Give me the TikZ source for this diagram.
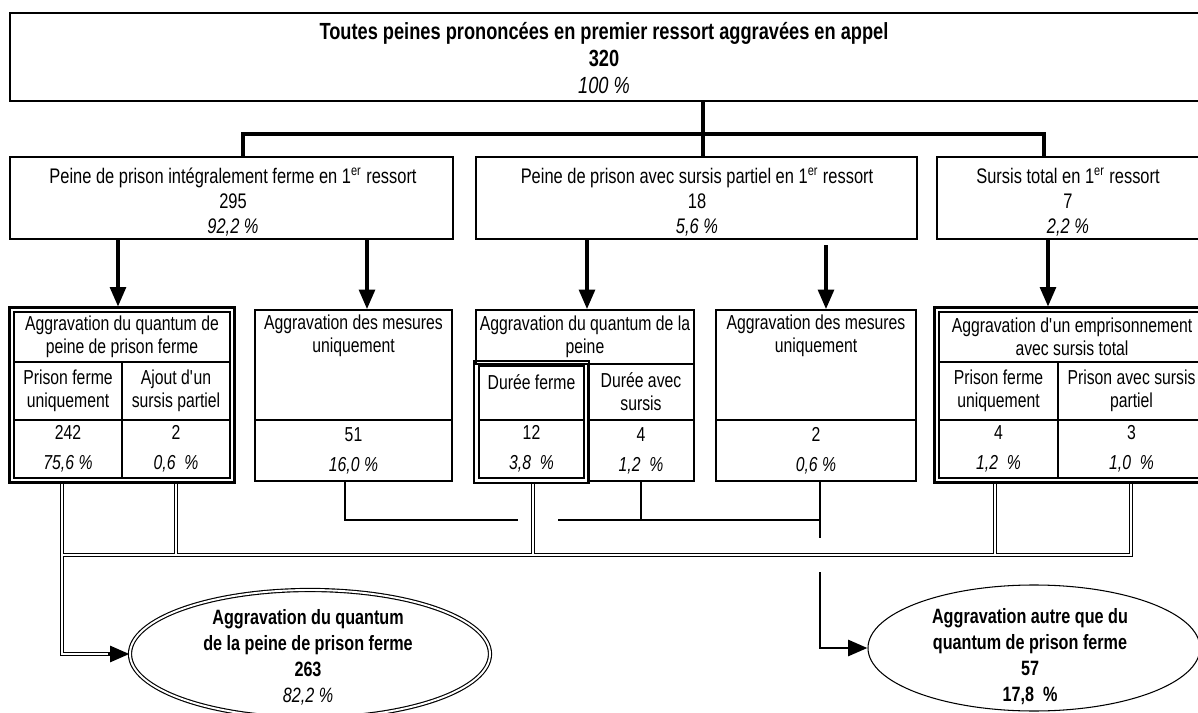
\documentclass[tikz,border=0pt]{standalone}
\usepackage{fontspec}
\setmainfont{Liberation Sans}[FakeStretch=0.78]
\usetikzlibrary{positioning}
\usetikzlibrary{arrows.meta}
\usetikzlibrary{fit}
\usetikzlibrary{shapes.geometric}
\newcommand{\px}{0.02cm}

\begin{document}
\begin{tikzpicture}[x=\px,y=-\px,
  every node/.style={font=\fontsize{11.5}{13}\selectfont, align=center},
  frame/.style={draw, line width=1.1pt},
  cell/.style 2 args={frame, minimum width=#1*\px, minimum height=#2*\px, inner sep=0pt},
  dframe/.style={frame, line width=1.2pt, inner sep=3.5*\px},
  big/.style={font=\fontsize{12}{14.3}\selectfont},
  bold/.style={font=\fontsize{11.8}{14.8}\selectfont\bfseries},
  trunk/.style={line width=1.8pt},
  arr/.style={line width=1.8pt, -{Triangle[length=11pt,width=9pt]}},
  link/.style={line width=1.7pt},
  dbl/.style={double, line width=0.65pt, double distance=1.1pt}]
 \useasboundingbox (0,0) rectangle (1198,713);
 \clip (0,0) rectangle (1198,713);

 \node[cell={1196}{88}] (top) at (608,57) {};
 \node[font=\fontsize{13.3}{15.5}\selectfont\bfseries] (topTxt) at (604,58) {Toutes peines prononcées en premier ressort aggravées en appel\\320\\{\mdseries\itshape 100 \%}};

 \node[cell={443}{82}] (m1) at (231.5,198) {};
 \node[cell={441}{82}] (m2) at (696.5,198) {};
 \node[cell={269}{82}] (m3) at (1071.5,198) {};
 \node[big] (m1Txt) at (233,202) {Peine de prison intégralement ferme en 1\textsuperscript{er} ressort\\295\\\textit{92,2 \%}};
 \node[big] (m2Txt) at (697,202) {Peine de prison avec sursis partiel en 1\textsuperscript{er} ressort\\18\\\textit{5,6 \%}};
 \node[big] (m3Txt) at (1068,202) {Sursis total en 1\textsuperscript{er} ressort\\7\\\textit{2,2 \%}};

 \coordinate (t1) at (243,134);
 \coordinate (t2) at (703,134);
 \coordinate (t3) at (1044,134);
 \draw[trunk] (t2 |- top.south) -- (t2 |- m2.north);
 \draw[trunk] (t1 |- m1.north) -- (t1) -- (t3) -- (t3 |- m3.north);

 \node[cell={216}{50}] (aHead) at (122,337) {Aggravation du quantum de\\peine de prison ferme};
 \node[cell={108}{58}] (aS1) at (68,391) {Prison ferme\\uniquement};
 \node[cell={108}{58}] (aS2) at (176,391) {Ajout d\textquotesingle un\\sursis partiel};
 \node[cell={108}{58}] (aN1) at (68,449) {242\\[4pt]\textit{75,6 \%}};
 \node[cell={108}{58}] (aN2) at (176,449) {2\\[4pt]\textit{0,6~~\%}};
 \node[dframe, fit=(aHead)(aN2)] (aFrame) {};

 \node[cell={197}{110}] (bHead) at (353.5,365) {};
 \node[below=0pt of bHead.north] (bTxt) {Aggravation des mesures\\uniquement};
 \node[cell={197}{61}] (bNum) at (353.5,450.5) {51\\[4pt]\textit{16,0 \%}};

 \node[cell={218}{54}] (cHead) at (585,337) {Aggravation du quantum de la\\peine};
 \node[cell={105}{54}] (cS1) at (531.5,393) {Durée ferme\\~};
 \node[cell={105}{58}] (cN1) at (531.5,449) {12\\[4pt]\textit{3,8~~\%}};
 \node[dframe, fit=(cS1)(cN1), inner sep=4*\px] (cFrame) {};
 \node[cell={106}{56}] (cS2) at (641,392) {Durée avec\\sursis};
 \node[cell={106}{61}] (cN2) at (641,450.5) {4\\[4pt]\textit{1,2~~\%}};

 \node[cell={200}{110}] (dHead) at (816,365) {};
 \node[below=0pt of dHead.north] (dTxt) {Aggravation des mesures\\uniquement};
 \node[cell={200}{61}] (dNum) at (816,450.5) {2\\[4pt]\textit{0,6 \%}};

 \node[cell={266}{50}] (eHead) at (1072,337) {Aggravation d\textquotesingle un emprisonnement\\avec sursis total};
 \node[cell={119}{58}] (eS1) at (998.5,391) {Prison ferme\\uniquement};
 \node[cell={147}{58}] (eS2) at (1131.5,391) {Prison avec sursis\\partiel};
 \node[cell={119}{58}] (eN1) at (998.5,449) {4\\[4pt]\textit{1,2~~\%}};
 \node[cell={147}{58}] (eN2) at (1131.5,449) {3\\[4pt]\textit{1,0~~\%}};
 \node[dframe, fit=(eHead)(eN2)] (eFrame) {};

 \draw[arr] (118,0 |- m1.south) -- (118,0 |- aFrame.north);
 \draw[arr] (367,0 |- m1.south) -- (367,0 |- bHead.north);
 \draw[arr] (587,0 |- m2.south) -- (587,0 |- cHead.north);
 \draw[arr, shorten <=3pt] (826,0 |- m2.south) -- (826,0 |- dHead.north);
 \draw[arr] (1048,0 |- m3.south) -- (1048,0 |- eFrame.north);

 \node[draw, ellipse, dbl, minimum width=360*\px, minimum height=128*\px] (lEll) at (310,654) {};
 \node[bold] (lTxt) at (308,657) {Aggravation du quantum\\de la peine de prison ferme\\263\\{\mdseries\itshape 82,2 \%}};
 \node[draw, ellipse, line width=0.6pt, minimum width=332*\px, minimum height=126*\px] (rEll) at (1034,648) {};
 \node[bold] (rTxt) at (1030,657) {Aggravation autre que du\\quantum de prison ferme\\57\\17,8~~\%};

 \coordinate (bus1) at (62,555);
 \coordinate (bus2) at (1131,555);
 \coordinate (lIn) at (108,654);
 \coordinate (rIn) at (848,648);
 \draw[dbl] (bus1 |- aFrame.south) |- (lIn)
  (176,0 |- aFrame.south) -- (176,0 |- bus1)
  (bus1) -- (bus2) -- (bus2 |- eFrame.south)
  (533,0 |- cFrame.south) -- (533,0 |- bus1)
  (995,0 |- eFrame.south) -- (995,0 |- bus1);
 \draw[arr] (lIn) -- (lEll.west);

 \draw[link] (345,0 |- bNum.south) |- (518,520);
 \draw[link] (558,520) -- (820,520);
 \draw[link] (cN2.south) -- (cN2.south |- 0,520);
 \draw[link] (820,0 |- dNum.south) -- (820,538);
 \draw[link] (820,572) |- (rIn);
 \draw[arr] (rIn) -- (rEll.west);
\end{tikzpicture}
\end{document}
